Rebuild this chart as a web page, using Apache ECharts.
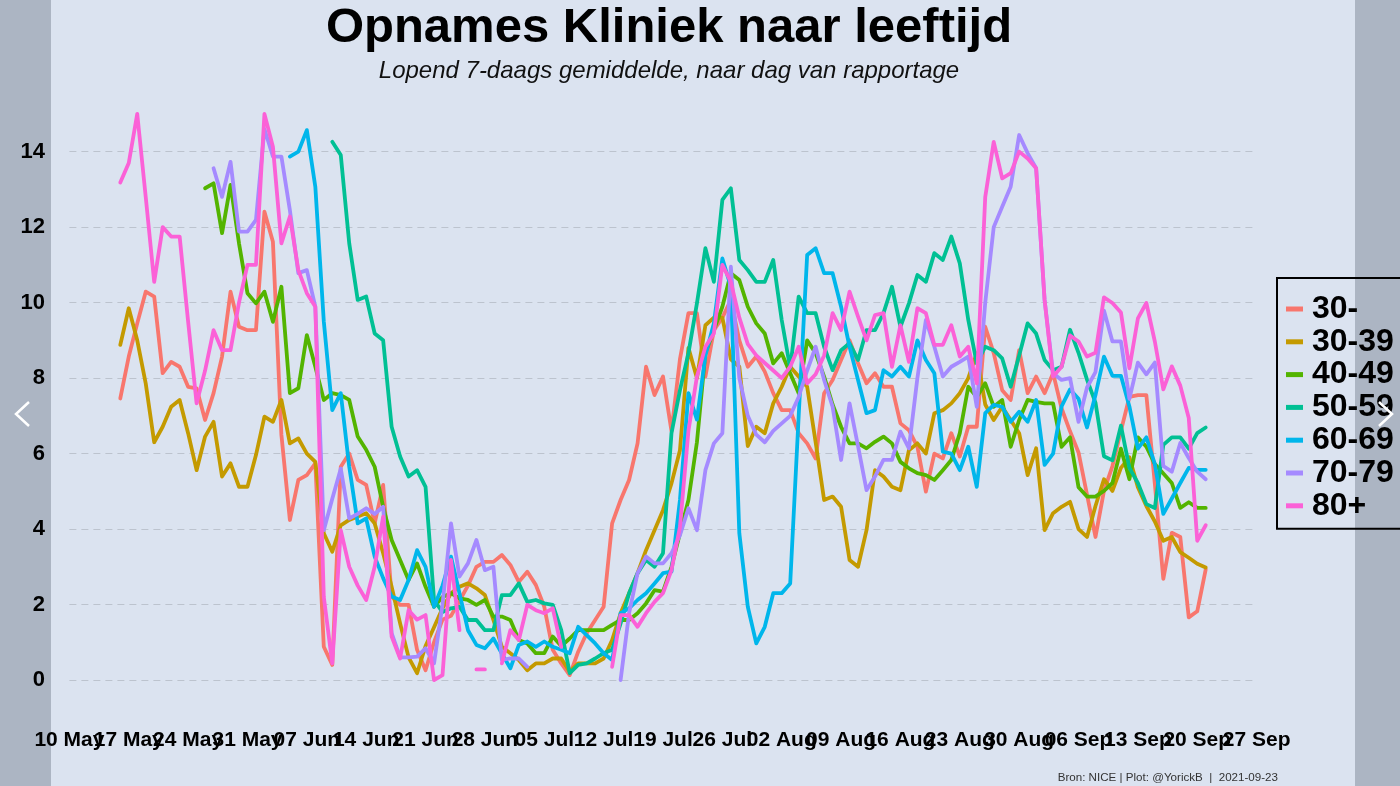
<!DOCTYPE html>
<html>
<head>
<meta charset="utf-8">
<script src="https://cdn.jsdelivr.net/npm/echarts/dist/echarts.min.js"></script>
<style>
html,body{margin:0;padding:0;background:#dbe3f0;}
#chart{width:1400px;height:786px;}
</style>
</head>
<body>
<div id="chart"></div>
<script>
// ---------- DATA ----------
const firstDate = '2021-05-10';
const dayCount = 141; // 10 May .. 27 Sep
const xTickLabels = ['10 May','17 May','24 May','31 May','07 Jun','14 Jun','21 Jun','28 Jun','05 Jul','12 Jul','19 Jul','26 Jul','02 Aug','09 Aug','16 Aug','23 Aug','30 Aug','06 Sep','13 Sep','20 Sep','27 Sep'];
const yTicks = [0,2,4,6,8,10,12,14];
const seriesNames = ['30-','30-39','40-49','50-59','60-69','70-79','80+'];

const start_u30 = 6;
const vals_u30 = [7.46,8.57,9.45,10.29,10.16,8.13,8.43,8.3,7.77,7.73,
6.89,7.6,8.57,10.29,9.36,9.27,9.27,12.41,11.61,6.5,
4.24,5.3,5.43,5.74,0.88,0.4,5.65,6.0,5.3,5.17,
4.15,5.17,2.21,1.99,1.99,0.8,0.26,1.0,1.6,1.7,
2.1,2.5,3.0,3.13,3.13,3.31,3.05,2.6,2.87,2.52,
1.94,0.8,0.44,0.13,0.75,1.24,1.59,1.94,4.15,4.77,
5.3,6.27,8.3,7.55,8.04,6.6,8.5,9.72,9.72,8.04,
9.27,9.6,10.07,9.0,8.3,8.57,8.17,7.6,7.15,7.15,
6.54,6.27,5.87,7.6,7.95,8.48,9.0,8.39,7.86,8.13,
7.77,7.77,6.8,6.62,6.18,4.99,6.0,5.87,6.54,5.92,
6.71,6.71,9.36,8.66,7.68,7.42,8.74,7.6,8.04,7.6,
8.13,7.2,6.59,6.03,4.91,3.79,5.01,5.67,6.6,7.5,
7.55,7.55,5.2,2.68,3.9,3.79,1.66,1.82,2.93];

const start_30_39 = 6;
const vals_30_39 = [8.88,9.85,9.0,7.86,6.3,6.71,7.24,7.42,6.54,5.56,
6.45,6.84,5.39,5.74,5.12,5.12,5.96,6.98,6.84,7.42,
6.27,6.4,6.0,5.78,3.89,3.4,4.1,4.24,4.33,4.42,
4.15,3.36,2.47,1.5,0.6,0.18,0.9,1.4,1.9,2.3,
2.47,2.56,2.43,2.25,1.59,0.88,0.71,0.53,0.26,0.44,
0.44,0.57,0.57,0.22,0.44,0.44,0.44,0.57,1.06,1.77,
2.3,2.83,3.44,3.97,4.5,5.21,6.09,8.8,8.0,9.4,
9.6,9.6,8.5,8.3,6.2,6.71,6.54,7.33,7.77,8.3,
8.04,7.77,6.3,4.77,4.86,4.59,3.18,3.0,3.97,5.56,
5.39,5.12,5.03,6.09,6.27,6.0,7.07,7.15,7.33,7.6,
8.0,8.66,7.3,6.89,7.24,6.89,6.54,5.43,6.14,3.97,
4.42,4.59,4.72,4.0,3.79,4.61,5.32,5.01,5.62,5.9,
5.11,4.61,4.2,3.69,3.79,3.39,3.24,3.08,2.98];

const start_40_49 = 16;
const vals_40_49 = [13.03,13.16,11.84,13.12,11.57,10.25,9.98,10.29,9.49,10.42,
7.6,7.73,9.14,8.3,7.42,7.6,7.55,7.42,6.45,6.1,
5.65,4.59,3.71,3.18,2.65,3.09,2.47,1.94,2.2,2.3,
2.16,2.12,1.99,2.12,1.68,1.68,1.59,1.06,0.97,0.71,
0.71,1.15,0.9,1.1,1.32,1.32,1.32,1.32,1.46,1.59,
1.59,1.77,2.03,2.38,2.34,3.0,3.89,4.77,6.3,8.66,
9.27,9.89,10.78,10.6,9.89,9.45,9.18,8.39,8.66,8.13,
7.6,9.0,8.66,8.04,7.3,6.71,6.27,6.27,6.14,6.31,
6.45,6.27,5.78,5.61,5.48,5.43,5.3,5.56,5.83,6.54,
7.77,7.5,7.86,7.24,7.42,6.18,6.89,7.42,7.37,7.33,
7.33,6.18,6.43,5.11,4.86,4.86,5.01,5.22,6.13,5.32,
6.43,6.18,5.72,5.47,5.22,4.56,4.71,4.56,4.56];

const start_50_59 = 31;
const vals_50_59 = [14.26,13.91,11.57,10.07,10.16,9.18,9.0,6.71,5.92,
5.39,5.56,5.12,2.12,1.8,1.9,1.94,1.59,1.59,1.32,
1.32,2.25,2.25,2.56,2.07,2.12,2.03,1.99,1.32,0.18,
0.4,0.44,0.57,0.71,0.8,1.5,2.3,2.83,3.18,3.0,
3.36,6.54,7.68,8.66,9.98,11.44,10.55,12.72,13.03,11.13,
10.86,10.55,10.55,11.13,9.54,8.26,10.16,9.72,9.72,8.83,
8.21,8.74,8.92,8.48,9.27,9.27,9.72,10.42,9.36,9.98,
10.73,10.55,11.31,11.13,11.75,11.04,9.54,8.39,8.83,8.74,
8.52,7.77,8.6,9.45,9.18,8.48,8.21,8.3,9.28,8.67,
7.96,7.35,5.93,5.82,6.74,5.62,5.22,4.66,4.56,6.23,
6.43,6.43,6.13,6.54,6.69];

const start_60_69 = 26;
const vals_60_69 = [13.87,14.0,14.57,13.07,9.5,7.15,7.6,5.65,4.15,4.28,
3.27,2.7,2.21,2.12,2.65,3.44,3.0,1.94,2.5,3.27,
2.3,1.32,0.93,0.84,1.1,0.7,0.31,0.93,1.02,0.88,
1.02,0.88,0.8,0.71,1.41,1.19,0.97,0.71,0.53,1.77,
1.9,2.12,2.3,2.56,2.83,2.87,4.77,7.6,6.9,8.6,
9.45,11.17,10.42,3.89,1.94,0.97,1.41,2.3,2.3,2.56,
7.0,11.26,11.44,10.78,10.78,9.89,8.83,7.95,7.07,7.15,
8.21,8.04,8.3,8.04,9.0,8.48,8.13,6.05,6.0,5.56,
6.18,5.12,7.07,7.29,7.24,6.84,7.11,6.84,7.42,5.7,
6.0,7.25,7.7,7.45,6.69,7.55,8.57,8.06,8.06,7.25,
6.13,6.43,5.72,4.4,4.81,5.22,5.62,5.57,5.57];

const start_70_79 = 17;
const vals_70_79 = [13.56,12.8,13.73,11.88,11.88,12.19,14.6,13.87,13.87,
12.45,10.78,10.86,9.89,3.97,4.8,5.6,4.28,4.4,4.55,
4.4,4.59,1.24,0.6,0.6,0.62,0.84,0.44,2.0,4.15,
2.74,3.09,3.71,2.91,3.0,0.53,0.57,0.57,0.35,null,
null,null,null,null,null,null,null,null,null,0.0,
1.77,2.83,3.27,3.09,3.09,3.36,3.84,4.55,3.97,5.56,
6.27,6.54,10.95,8.0,7.0,6.5,6.3,6.6,6.8,7.0,
7.5,8.2,8.83,7.95,7.24,5.83,7.33,6.2,5.03,5.39,
5.83,5.83,6.58,6.14,8.0,9.54,8.83,8.04,8.3,8.43,
8.57,7.24,10.0,12.0,12.54,13.07,14.44,13.96,13.56,10.07,
8.13,7.95,8.0,6.84,7.75,8.16,9.79,8.97,8.97,7.45,
8.41,8.1,8.41,5.67,5.52,6.28,5.88,5.52,5.32];

const start_80p = 6;
const vals_80p = [13.18,13.7,15.0,12.8,10.55,12.0,11.75,11.75,9.5,7.33,
8.2,9.27,8.74,8.74,10.0,11.0,11.0,15.0,14.13,11.57,
12.28,10.86,10.25,9.89,2.2,0.44,3.97,3.0,2.5,2.12,
3.0,4.33,1.15,0.57,1.85,1.6,1.72,0.0,0.13,3.18,
1.32,null,0.28,0.28,null,0.44,1.32,1.06,1.99,1.85,
1.77,1.9,0.88,null,null,null,null,null,0.35,1.72,
1.72,1.41,1.77,2.07,2.3,2.91,4.06,6.6,8.04,8.83,
9.18,11.0,10.55,9.6,8.9,8.6,8.4,8.2,8.0,8.3,
8.83,7.86,8.1,8.6,9.72,9.27,10.29,9.63,9.0,9.67,
9.72,8.3,9.4,8.43,9.85,9.72,8.88,8.88,9.4,8.57,
8.83,7.86,12.8,14.26,13.29,13.43,14.0,13.82,13.56,10.07,
8.04,8.3,9.13,8.97,8.57,8.67,10.14,9.99,9.74,8.26,
9.58,9.99,8.97,7.7,8.31,7.8,6.94,3.69,4.1];

// ---------- BUILD ----------
const seriesStarts = [start_u30, start_30_39, start_40_49, start_50_59, start_60_69, start_70_79, start_80p];
const seriesVals = [vals_u30, vals_30_39, vals_40_49, vals_50_59, vals_60_69, vals_70_79, vals_80p];
const colors = ['#F8766D','#C49A00','#53B400','#00C094','#00B6EB','#A58AFF','#FB61D7'];

const categories = [];
{
  const d0 = new Date(firstDate + 'T00:00:00Z');
  for (let i = 0; i < dayCount; i++) {
    const d = new Date(d0.getTime() + i * 86400000);
    categories.push(d.toISOString().slice(0, 10));
  }
}
function padSeries(start, vals) {
  const out = new Array(dayCount).fill(null);
  for (let i = 0; i < vals.length; i++) out[start + i] = vals[i];
  return out;
}

const FONT = "'Liberation Sans', Arial, Helvetica, sans-serif";
const NARROW = "'Liberation Sans Narrow', 'Arial Narrow', 'Liberation Sans', Arial, sans-serif";
const BG = '#dbe3f0';

const chart = echarts.init(document.getElementById('chart'), null, {renderer: 'canvas'});
const option = {
  animation: false,
  backgroundColor: BG,
  title: {
    text: 'Opnames Kliniek naar leeftijd',
    subtext: 'Lopend 7-daags gemiddelde, naar dag van rapportage',
    left: 664,
    top: -1,
    textAlign: 'center',
    itemGap: 6,
    textStyle: {fontFamily: FONT, fontSize: 49, fontWeight: 'bold', color: '#000'},
    subtextStyle: {fontFamily: FONT, fontSize: 24, fontStyle: 'italic', color: '#111'}
  },
  grid: {left: 69.4, right: 143.4, top: 98.8, bottom: 106, containLabel: false, outerBoundsMode: 'none'},
  xAxis: {
    type: 'category',
    data: categories,
    boundaryGap: false,
    axisLine: {show: false},
    axisTick: {show: false},
    splitLine: {show: false},
    axisLabel: {
      interval: 0,
      margin: 50,
      hideOverlap: false,
      fontFamily: NARROW, fontSize: 21, fontWeight: 'bold', color: '#000',
      formatter: function (v, i) { return (i % 7 === 0) ? xTickLabels[i / 7] : ''; }
    }
  },
  yAxis: {
    type: 'value',
    min: yTicks[0],
    max: 15.4,
    interval: 2,
    axisLine: {show: false},
    axisTick: {show: false},
    axisLabel: {
      margin: 24.4, showMaxLabel: false,
      fontFamily: FONT, fontSize: 22, fontWeight: 'bold', color: '#000',
      formatter: function (v) { return yTicks.indexOf(v) >= 0 ? String(v) : ''; }
    },
    splitLine: {show: true, showMaxLine: false, lineStyle: {color: '#bcc3ce', width: 1, type: [7, 5]}}
  },
  legend: {
    orient: 'vertical',
    left: 1277,
    top: 278,
    padding: [15, 40, 7, 9],
    itemGap: 0.8,
    itemWidth: 17,
    itemHeight: 5,
    icon: 'rect',
    selectedMode: false,
    borderColor: '#000',
    borderWidth: 2,
    borderRadius: 0,
    backgroundColor: BG,
    data: seriesNames,
    textStyle: {fontFamily: FONT, fontSize: 32, fontWeight: 'bold', color: '#000', lineHeight: 30, padding: [0, 0, 0, 4]}
  },
  series: seriesNames.map(function (name, k) {
    return {
      name: name,
      type: 'line',
      data: padSeries(seriesStarts[k], seriesVals[k]),
      showSymbol: false,
      symbol: 'none',
      connectNulls: false,
      clip: false,
      color: colors[k],
      itemStyle: {color: colors[k]},
      lineStyle: {color: colors[k], width: 3.8, join: 'round', cap: 'round'},
      emphasis: {disabled: true},
      z: 2 + k
    };
  }),
  graphic: [
    {type: 'text', right: 122, bottom: 2, z: 50,
     style: {text: 'Bron: NICE | Plot: @YorickB  |  2021-09-23', fontFamily: FONT, fontSize: 11.6, fill: '#333'}},
    {type: 'rect', z: 100, shape: {x: 0, y: 0, width: 51, height: 786}, style: {fill: 'rgb(200,203,207)', blend: 'multiply'}},
    {type: 'rect', z: 100, shape: {x: 1355, y: 0, width: 45, height: 786}, style: {fill: 'rgb(200,203,207)', blend: 'multiply'}},
    {type: 'polyline', z: 101, shape: {points: [[29, 402], [16, 414], [29, 426]]}, style: {stroke: '#ffffff', lineWidth: 2.5, fill: null}},
    {type: 'polyline', z: 101, shape: {points: [[1379, 402], [1392, 414], [1379, 426]]}, style: {stroke: '#ffffff', lineWidth: 2.5, fill: null}}
  ]
};
chart.setOption(option);
</script>
</body>
</html>
